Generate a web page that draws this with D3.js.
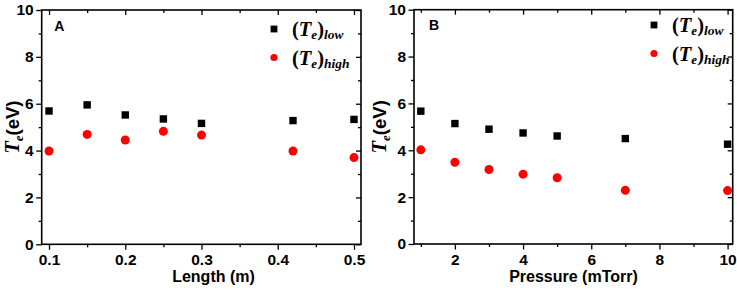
<!DOCTYPE html>
<html>
<head>
<meta charset="utf-8">
<script src="https://cdn.jsdelivr.net/npm/d3@7"></script>
<style>
  body { margin: 0; background: #fff; }
  svg { display: block; }
  .tick text { font-family: "Liberation Sans", Arial, sans-serif; font-weight: bold; font-size: 15.5px; fill: #000; }
  .tick line { stroke: #000; stroke-width: 1.3; }
  .domain { display: none; }
</style>
</head>
<body>
<div id="chart"></div>
<script>
// panel A: electron temperature vs length
const lengthVals = [0.1, 0.15, 0.2, 0.25, 0.3, 0.42, 0.5];
const lengthLow  = [5.69, 5.95, 5.52, 5.35, 5.16, 5.28, 5.33];
const lengthHigh = [3.98, 4.69, 4.45, 4.82, 4.66, 3.98, 3.70];

// panel B: electron temperature vs pressure
const pressureVals = [1, 2, 3, 4, 5, 7, 10];
const pressureLow  = [5.67, 5.14, 4.90, 4.74, 4.61, 4.50, 4.26];
const pressureHigh = [4.02, 3.49, 3.18, 2.98, 2.83, 2.29, 2.28];

const yMajor = [0, 2, 4, 6, 8, 10];
const yMinor = [1, 3, 5, 7, 9];
const lengthMajor = [0.1, 0.2, 0.3, 0.4, 0.5];
const lengthMinor = [0.15, 0.25, 0.35, 0.45];
const pressureMajor = [2, 4, 6, 8, 10];
const pressureMinor = [1, 3, 5, 7, 9];

const svg = d3.select("#chart")
  .append("svg")
    .attr("width", 737)
    .attr("height", 293);

function drawPanel(p) {
  const width = p.w, height = p.h;
  const g = svg.append("g")
    .attr("transform", `translate(${p.left},${p.top})`);

  const x = d3.scaleLinear().domain(p.xDomain).range([0, width]);
  const y = d3.scaleLinear().domain([0, 10]).range([height, 0]);

  // bottom axis, outward ticks
  g.append("g")
    .attr("transform", `translate(0,${height})`)
    .call(d3.axisBottom(x).tickValues(p.xMajor).tickSize(5.5).tickPadding(4).tickFormat(p.fmt));
  g.append("g")
    .attr("transform", `translate(0,${height})`)
    .call(d3.axisBottom(x).tickValues(p.xMinor).tickSize(3).tickFormat(""));

  // left axis
  g.append("g")
    .call(d3.axisLeft(y).tickValues(yMajor).tickSize(5.5).tickPadding(2.5).tickFormat(d3.format("d")));
  g.append("g")
    .call(d3.axisLeft(y).tickValues(yMinor).tickSize(3).tickFormat(""));

  // mirrored top / right, ticks pointing in
  g.append("g")
    .call(d3.axisTop(x).tickValues(p.xMajor).tickSize(-5).tickFormat(""));
  g.append("g")
    .call(d3.axisTop(x).tickValues(p.xMinor).tickSize(-3).tickFormat(""));
  g.append("g")
    .attr("transform", `translate(${width},0)`)
    .call(d3.axisRight(y).tickValues(yMajor).tickSize(-5).tickFormat(""));
  g.append("g")
    .attr("transform", `translate(${width},0)`)
    .call(d3.axisRight(y).tickValues(yMinor).tickSize(-3).tickFormat(""));

  g.append("rect")
    .attr("width", width)
    .attr("height", height)
    .attr("fill", "none")
    .attr("stroke", "black")
    .attr("stroke-width", 1.6);

  // data
  g.append("g")
    .selectAll("rect")
    .data(p.xs.map((d, i) => ({x: d, v: p.low[i]})))
    .join("rect")
      .attr("x", d => x(d.x) - 3.7)
      .attr("y", d => y(d.v) - 3.7)
      .attr("width", 7.4)
      .attr("height", 7.4)
      .attr("fill", "black");

  g.append("g")
    .selectAll("circle")
    .data(p.xs.map((d, i) => ({x: d, v: p.high[i]})))
    .join("circle")
      .attr("cx", d => x(d.x))
      .attr("cy", d => y(d.v))
      .attr("r", 4.5)
      .attr("fill", "#ff0000");

  // panel letter
  g.append("text")
    .attr("x", p.letterX)
    .attr("y", 20.5)
    .attr("font-family", "Liberation Sans, Arial, sans-serif")
    .attr("font-weight", "bold")
    .attr("font-size", 14)
    .text(p.letter);

  // legend
  const leg = g.append("g").attr("transform", `translate(${p.legX},${p.legY})`);
  leg.append("rect").attr("x", -3.4).attr("y", -3.4).attr("width", 6.8).attr("height", 6.8).attr("fill", "black");
  leg.append("circle").attr("cx", 0).attr("cy", 28.5).attr("r", 3.6).attr("fill", "#ff0000");
  const names = ["low", "high"];
  names.forEach((n, i) => {
    const t = leg.append("text")
      .attr("x", 18)
      .attr("y", 7 + i * 28.5)
      .attr("font-family", "Liberation Serif, Times New Roman, serif")
      .attr("font-weight", "bold")
      .attr("font-size", 20.5);
    t.append("tspan").text("(");
    t.append("tspan").attr("font-style", "italic").text("T");
    t.append("tspan").attr("font-style", "italic").attr("font-size", 13).attr("dy", 3).text("e");
    t.append("tspan").attr("dy", -3).text(")");
    t.append("tspan").attr("font-style", "italic").attr("font-size", 13.5).attr("dy", 3).text(n);
  });

  // axis titles
  g.append("text")
    .attr("x", p.xTitleX)
    .attr("y", height + 38)
    .attr("text-anchor", "middle")
    .attr("font-family", "Liberation Sans, Arial, sans-serif")
    .attr("font-weight", "bold")
    .attr("font-size", 16)
    .text(p.xTitle);

  const yt = g.append("text")
    .attr("transform", `translate(${p.yTitleX},${height / 2}) rotate(-90)`)
    .attr("text-anchor", "middle")
    .attr("font-weight", "bold")
    .attr("font-size", 18.5);
  yt.append("tspan").attr("font-family", "Liberation Serif, Times New Roman, serif").attr("font-style", "italic").attr("font-size", 20.5).text("T");
  yt.append("tspan").attr("font-family", "Liberation Serif, Times New Roman, serif").attr("font-style", "italic").attr("font-size", 13).attr("dy", 4).text("e");
  yt.append("tspan").attr("font-family", "Liberation Sans, Arial, sans-serif").attr("dy", -4).text("(eV)");
}

drawPanel({
  left: 41.7, top: 10, w: 319.3, h: 234.3,
  xDomain: [0.0904, 0.5092],
  xs: lengthVals, low: lengthLow, high: lengthHigh,
  xMajor: lengthMajor, xMinor: lengthMinor, fmt: d3.format(".1f"),
  letter: "A", letterX: 12.5,
  legX: 232.3, legY: 19,
  xTitle: "Length (m)", xTitleX: 171.8,
  yTitleX: -23
});

drawPanel({
  left: 414, top: 9.7, w: 318.7, h: 234.3,
  xDomain: [0.8, 10.15],
  xs: pressureVals, low: pressureLow, high: pressureHigh,
  xMajor: pressureMajor, xMinor: pressureMinor, fmt: d3.format("d"),
  letter: "B", letterX: 15,
  legX: 240, legY: 15.3,
  xTitle: "Pressure (mTorr)", xTitleX: 159.5,
  yTitleX: -28.5
});
</script>
</body>
</html>
